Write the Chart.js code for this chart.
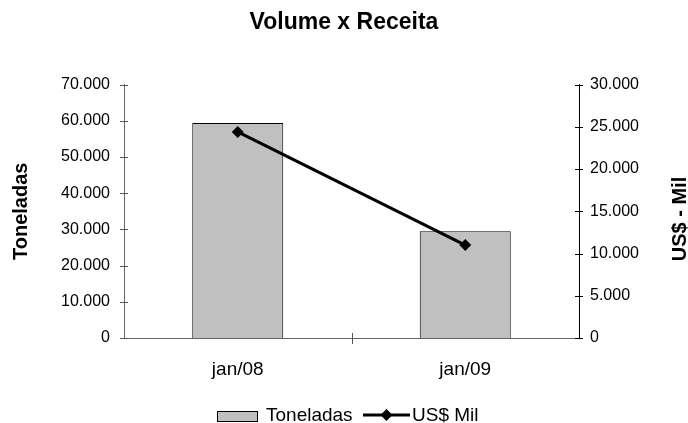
<!DOCTYPE html>
<html>
<head>
<meta charset="utf-8">
<script src="https://cdn.jsdelivr.net/npm/chart.js@4/dist/chart.umd.min.js"></script>
<style>
  html, body { margin: 0; padding: 0; background: #fff; }
  #wrap { width: 688px; height: 423px; }
</style>
</head>
<body>
<div id="wrap"><canvas id="chart"></canvas></div>
<script>
const categories = ["jan/08", "jan/09"];
const toneladas = [59400, 29500];
const receita = [24400, 11000];
const leftMax = 70000, leftStep = 10000;
const rightMax = 30000, rightStep = 5000;

const FONT = "'Liberation Sans', Arial, sans-serif";

function fmt(n) {
  return n.toString().replace(/\B(?=(\d{3})+(?!\d))/g, ".");
}

// tick marks that cross the axis lines
const crossTicks = {
  id: "crossTicks",
  afterDatasetsDraw(chart) {
    const { ctx, chartArea } = chart;
    const { x, y, y1 } = chart.scales;
    ctx.save();
    ctx.lineWidth = 1;
    ctx.strokeStyle = "#555";
    ctx.beginPath();
    y.ticks.forEach((t, i) => {
      const py = Math.round(y.getPixelForTick(i)) + 0.5;
      ctx.moveTo(chartArea.left - 4, py);
      ctx.lineTo(chartArea.left + 4, py);
    });
    const bx = Math.round((x.getPixelForValue(0) + x.getPixelForValue(1)) / 2) + 0.5;
    ctx.moveTo(bx, chartArea.bottom - 5);
    ctx.lineTo(bx, chartArea.bottom + 6);
    ctx.stroke();
    ctx.strokeStyle = "#000";
    ctx.beginPath();
    y1.ticks.forEach((t, i) => {
      const py = Math.round(y1.getPixelForTick(i)) + 0.5;
      ctx.moveTo(chartArea.right - 4, py);
      ctx.lineTo(chartArea.right + 4, py);
    });
    ctx.stroke();
    ctx.restore();
  }
};

// right axis title (reads bottom to top) and the legend
const extras = {
  id: "extras",
  afterDraw(chart) {
    const { ctx } = chart;
    ctx.save();
    ctx.fillStyle = "#000";
    ctx.font = "bold 20px " + FONT;
    ctx.textAlign = "center";
    ctx.textBaseline = "middle";
    ctx.translate(680, 219);
    ctx.rotate(-Math.PI / 2);
    ctx.fillText("US$ - Mil", 0, 0);
    ctx.restore();

    ctx.save();
    ctx.font = "19px " + FONT;
    ctx.textBaseline = "alphabetic";
    ctx.fillStyle = "#C0C0C0";
    ctx.fillRect(217, 411.5, 41, 10);
    ctx.strokeStyle = "#000";
    ctx.lineWidth = 1;
    ctx.strokeRect(217.5, 411.5, 40, 10);
    ctx.fillStyle = "#000";
    ctx.fillText("Toneladas", 266, 421);
    ctx.lineWidth = 3;
    ctx.beginPath();
    ctx.moveTo(363, 415);
    ctx.lineTo(410, 415);
    ctx.stroke();
    ctx.beginPath();
    ctx.moveTo(386.5, 409);
    ctx.lineTo(392.5, 415);
    ctx.lineTo(386.5, 421);
    ctx.lineTo(380.5, 415);
    ctx.closePath();
    ctx.fill();
    ctx.fillText("US$ Mil", 412, 421);
    ctx.restore();
  }
};

new Chart(document.getElementById("chart"), {
  data: {
    labels: categories,
    datasets: [
      {
        type: "line",
        label: "US$ Mil",
        data: receita,
        yAxisID: "y1",
        borderColor: "#000",
        backgroundColor: "#000",
        borderWidth: 3,
        pointStyle: "rectRot",
        pointRadius: 6,
        pointBorderWidth: 0,
        tension: 0,
        order: 0
      },
      {
        type: "bar",
        label: "Toneladas",
        data: toneladas,
        yAxisID: "y",
        backgroundColor: "#C0C0C0",
        borderColor: "#000",
        borderWidth: 1,
        barPercentage: 0.4,
        categoryPercentage: 1.0,
        order: 1
      }
    ]
  },
  options: {
    responsive: true,
    maintainAspectRatio: false,
    animation: false,
    layout: { padding: 0 },
    plugins: {
      legend: { display: false },
      tooltip: { enabled: false },
      title: {
        display: true,
        text: "Volume x Receita",
        color: "#000",
        font: { family: FONT, size: 23, weight: "bold" },
        padding: { top: 9, bottom: 48 }
      }
    },
    scales: {
      x: {
        offset: true,
        grid: { display: false },
        border: { display: true, color: "#666", width: 1 },
        ticks: { color: "#000", font: { family: FONT, size: 19 }, padding: 12 },
        afterFit: s => { s.height = 85; }
      },
      y: {
        position: "left",
        min: 0,
        max: leftMax,
        grid: { display: false, drawTicks: false },
        border: { display: true, color: "#666", width: 1 },
        ticks: {
          stepSize: leftStep,
          color: "#000",
          font: { family: FONT, size: 16 },
          padding: 14,
          callback: v => fmt(v)
        },
        title: {
          display: true,
          text: "Toneladas",
          color: "#000",
          font: { family: FONT, size: 20, weight: "bold" },
          padding: { top: 9, bottom: 0 }
        },
        afterFit: s => { s.width = 124; }
      },
      y1: {
        position: "right",
        min: 0,
        max: rightMax,
        grid: { display: false, drawTicks: false },
        border: { display: true, color: "#000", width: 1 },
        ticks: {
          stepSize: rightStep,
          color: "#000",
          font: { family: FONT, size: 16 },
          padding: 11,
          callback: v => fmt(v)
        },
        afterFit: s => { s.width = 109; }
      }
    }
  },
  plugins: [crossTicks, extras]
});
</script>
</body>
</html>
